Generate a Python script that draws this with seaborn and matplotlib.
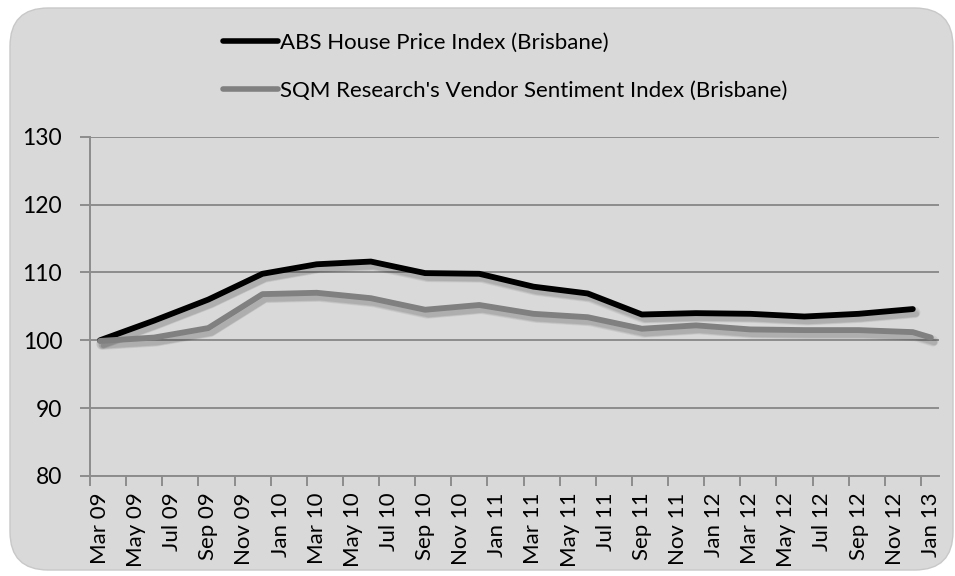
import numpy as np
import pandas as pd
import matplotlib
matplotlib.use("Agg")
import matplotlib.pyplot as plt
import matplotlib.patheffects as pe
from matplotlib.patches import FancyBboxPatch
from matplotlib.lines import Line2D
import seaborn as sns

# ---- data ----
abs_label = "ABS House Price Index (Brisbane)"
sqm_label = "SQM Research's Vendor Sentiment Index (Brisbane)"
# months since Mar 09 (0 = Mar 09)
abs_months = [0, 3, 6, 9, 12, 15, 18, 21, 24, 27, 30, 33, 36, 39, 42, 45]
abs_values = [100.0, 102.9, 106.0, 109.8, 111.2, 111.6, 109.9, 109.8,
              107.9, 106.9, 103.8, 104.0, 103.9, 103.5, 103.9, 104.6]
sqm_months = [0, 3, 6, 9, 12, 15, 18, 21, 24, 27, 30, 33, 36, 39, 42, 45, 46]
sqm_values = [99.9, 100.4, 101.8, 106.8, 107.0, 106.2, 104.5, 105.2,
              103.9, 103.4, 101.7, 102.2, 101.6, 101.5, 101.5, 101.2, 100.4]
tick_labels = ["Mar 09", "May 09", "Jul 09", "Sep 09", "Nov 09", "Jan 10",
               "Mar 10", "May 10", "Jul 10", "Sep 10", "Nov 10", "Jan 11",
               "Mar 11", "May 11", "Jul 11", "Sep 11", "Nov 11", "Jan 12",
               "Mar 12", "May 12", "Jul 12", "Sep 12", "Nov 12", "Jan 13"]
y_ticks = [80, 90, 100, 110, 120, 130]

df = pd.concat([
    pd.DataFrame({"month": abs_months, "value": abs_values, "series": abs_label}),
    pd.DataFrame({"month": sqm_months, "value": sqm_values, "series": sqm_label}),
], ignore_index=True)

sns.set_theme(style="white")
plt.rcParams["font.family"] = ["Lato", "DejaVu Sans"]
plt.rcParams["text.color"] = "black"

BG = "#d9d9d9"
GRID = "#8c8c8c"
colors = {abs_label: "#000000", sqm_label: "#808080"}

fig = plt.figure(figsize=(9.55, 5.76), dpi=100)
fig.patch.set_facecolor("white")
frame = FancyBboxPatch((10 / 955, 6 / 576), 943 / 955, 562 / 576,
                       boxstyle="round,pad=0,rounding_size=0.04",
                       transform=fig.transFigure, facecolor=BG,
                       edgecolor="#c8c8c8", linewidth=1.0, zorder=-10,
                       mutation_aspect=955 / 576)
fig.patches.append(frame)

ax = fig.add_axes([90 / 955, 1 - 476 / 576, (939 - 90) / 955, (476 - 136.7) / 576])
ax.set_facecolor(BG)
ax.set_zorder(1)

shadow = [pe.SimpleLineShadow(offset=(1.5, -2.5), shadow_color="black", alpha=0.06, linewidth=8),
          pe.SimpleLineShadow(offset=(2.0, -3.0), shadow_color="black", alpha=0.07, linewidth=6),
          pe.SimpleLineShadow(offset=(2.5, -3.5), shadow_color="black", alpha=0.08, linewidth=4),
          pe.Normal()]
sns.lineplot(data=df, x="month", y="value", hue="series", palette=colors,
             linewidth=4.2, legend=False, ax=ax, sort=True, estimator=None)
for ln in ax.get_lines():
    ln.set_solid_capstyle("round")
    ln.set_solid_joinstyle("round")
    ln.set_path_effects(shadow)

ax.set_xlim(-0.45, 46.45)
ax.set_ylim(80, 130)
ax.set_yticks(y_ticks)
ax.set_yticklabels([str(v) for v in y_ticks], fontsize=16.5, color="#000000")
ax.yaxis.grid(True, color=GRID, linewidth=1.4)
ax.set_axisbelow(True)

label_pos = np.arange(0, 47, 2)
ax.set_xticks(label_pos)
ax.set_xticklabels(tick_labels, rotation=90, fontsize=16, color="#000000")
ax.set_xticks(label_pos - 0.55, minor=True)
ax.tick_params(axis="x", which="major", length=0, pad=12)
ax.tick_params(axis="x", which="minor", length=7, width=1.4, color=GRID, direction="out", bottom=True)
ax.tick_params(axis="y", length=7, width=1.4, color=GRID, direction="out", left=True, pad=13)
ax.set_xlabel("")
ax.set_ylabel("")

for s in ["top", "right"]:
    ax.spines[s].set_visible(False)
for s in ["left", "bottom"]:
    ax.spines[s].set_color(GRID)
    ax.spines[s].set_linewidth(1.4)

handles = [Line2D([0], [0], color=colors[abs_label], linewidth=4, solid_capstyle="round"),
           Line2D([0], [0], color=colors[sqm_label], linewidth=4, solid_capstyle="round")]
fig.legend(handles, [abs_label, sqm_label], loc="upper left",
           bbox_to_anchor=(214 / 955, 1 - 24 / 576), frameon=False,
           fontsize=16, handlelength=2.5, handletextpad=0.08, labelspacing=1.25,
           borderaxespad=0)

fig.savefig("out.png", dpi=100, facecolor="white")
